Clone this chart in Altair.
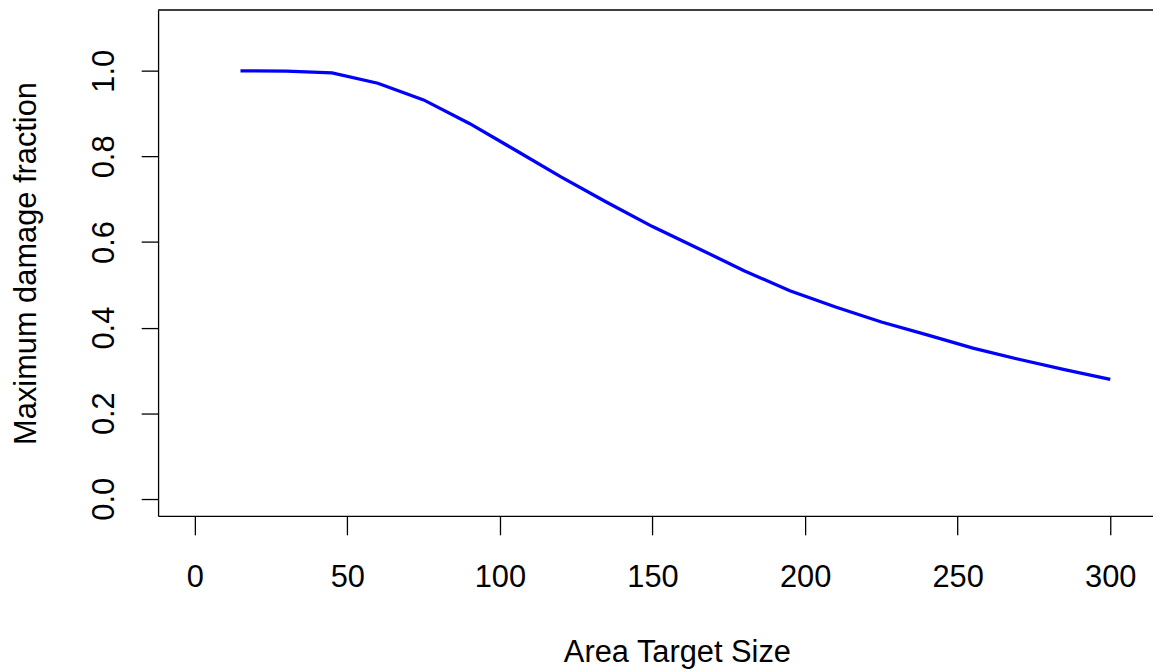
import altair as alt
import pandas as pd

# Data
area_size = [15, 30, 45, 60, 75, 90, 105, 120, 135, 150,
             165, 180, 195, 210, 225, 240, 255, 270, 285, 300]
max_damage = [1.000, 0.999, 0.995, 0.971, 0.932, 0.877, 0.815, 0.752, 0.693, 0.636,
              0.585, 0.533, 0.486, 0.448, 0.413, 0.383, 0.352, 0.326, 0.302, 0.279]
x_ticks = [0, 50, 100, 150, 200, 250, 300]
y_ticks = [0.0, 0.2, 0.4, 0.6, 0.8, 1.0]

df = pd.DataFrame({"size": area_size, "frac": max_damage})

W, H = 1001, 509
FONT = "Liberation Sans"
FS = 31

x_axis = alt.Axis(values=x_ticks, tickSize=19, tickWidth=1.3, tickColor="black",
                  domainColor="black", domainWidth=1.3, labelFontSize=FS, labelFont=FONT,
                  labelColor="black", labelPadding=28, labelFlush=False, labelOverlap=False,
                  title="Area Target Size", titleFontSize=FS, titleFont=FONT,
                  titleFontWeight="normal", titleColor="black", titlePadding=45,
                  titleX=522, titleAlign="center", grid=False)
y_axis = alt.Axis(values=y_ticks, format=".1f", tickSize=17, tickWidth=1.3, tickColor="black",
                  domainColor="black", domainWidth=1.3, labelFontSize=FS, labelFont=FONT,
                  labelColor="black", labelAngle=-90, labelPadding=21, labelFlush=False,
                  labelOverlap=False,
                  title="Maximum damage fraction", titleFontSize=FS, titleFont=FONT,
                  titleFontWeight="normal", titleColor="black", titlePadding=46, grid=False)

line = alt.Chart(df).mark_line(color="#0000FF", strokeWidth=3.3).encode(
    x=alt.X("size:Q", scale=alt.Scale(domain=[-12, 314], nice=False, zero=False), axis=x_axis),
    y=alt.Y("frac:Q", scale=alt.Scale(domain=[-0.04, 1.142], nice=False, zero=False), axis=y_axis),
)

top_border = alt.Chart(pd.DataFrame({"a": [0]})).mark_rule(color="black", strokeWidth=1.3).encode(
    x=alt.value(0), x2=alt.value(W), y=alt.value(0)
)

chart = alt.layer(line, top_border).properties(
    width=W, height=H,
    padding={"left": 151, "top": 0, "right": 0, "bottom": 155},
    autosize=alt.AutoSizeParams(type="none"),
    background="white",
).configure_view(stroke=None)

chart.save("out.html", embed_options={"renderer": "svg", "actions": False})
